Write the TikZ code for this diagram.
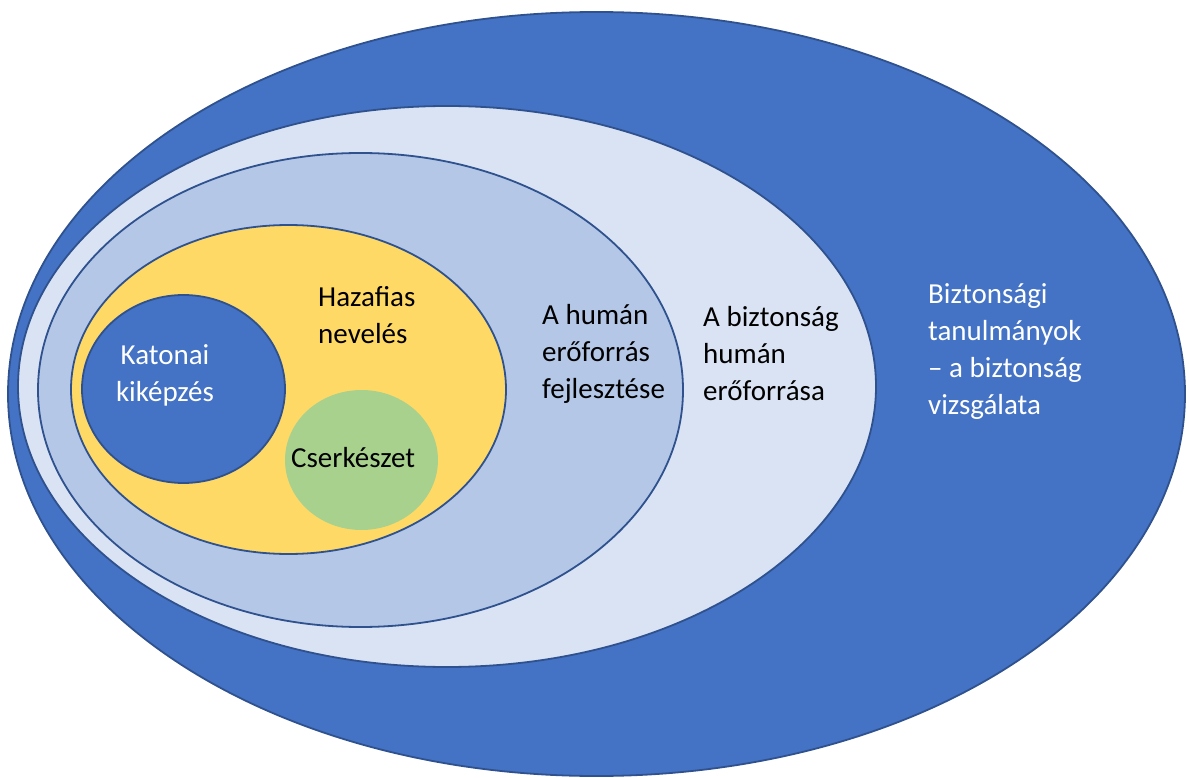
\documentclass[tikz,border=0pt]{standalone}
\usepackage{fontspec}
\setmainfont{Carlito}
\definecolor{bordc}{HTML}{2F528F}
\definecolor{darkb}{HTML}{4472C4}
\definecolor{lightb}{HTML}{DAE3F3}
\definecolor{midb}{HTML}{B4C7E7}
\definecolor{yell}{HTML}{FFD966}
\definecolor{grn}{HTML}{A9D18E}
\begin{document}
\begin{tikzpicture}[x=1pt,y=-1pt,
  ell/.style={draw=bordc, line width=1.8pt},
  lbl/.style={font=\fontsize{29}{37}\selectfont, align=left, inner sep=0pt, anchor=west}]
\useasboundingbox (0,0) rectangle (1189,778);
\filldraw[ell, fill=darkb] (596.5,394) ellipse [x radius=588.5pt, y radius=382pt];
\filldraw[ell, fill=lightb] (447,386.5) ellipse [x radius=429pt, y radius=280.5pt];
\filldraw[ell, fill=midb] (360.5,390) ellipse [x radius=322.5pt, y radius=237pt];
\filldraw[ell, fill=yell] (288.5,389.5) ellipse [x radius=217.5pt, y radius=164.5pt];
\filldraw[ell, fill=darkb] (183.5,389) ellipse [x radius=101.5pt, y radius=94pt];
\fill[grn] (361.5,460) ellipse [x radius=76.5pt, y radius=70pt];
\node[lbl] (haza) at (318,315.5) {Hazafias\\nevelés};
\node[lbl, align=center, anchor=center, text=white] (kat) at (165,375.5) {Katonai\\kiképzés};
\node[lbl] (cser) at (291,458) {Cserkészet};
\node[lbl] (hum) at (542,354) {A humán\\erőforrás\\fejlesztése};
\node[lbl] (bizt) at (703,354) {A biztonság\\humán\\erőforrása};
\node[lbl, text=white] (tan) at (928,352) {Biztonsági\\tanulmányok\\– a biztonság\\vizsgálata};
\end{tikzpicture}
\end{document}
